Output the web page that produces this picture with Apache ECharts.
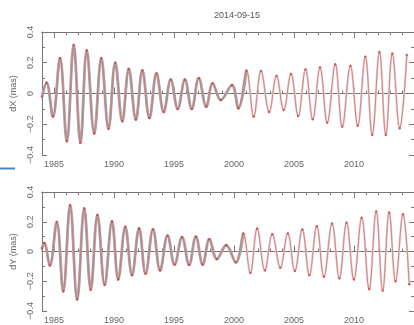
<!DOCTYPE html>
<html>
<head>
<meta charset="utf-8">
<script src="https://cdn.jsdelivr.net/npm/echarts@6/dist/echarts.min.js"></script>
<style>html,body{margin:0;padding:0;background:#fff}#c{width:414px;height:325px}</style>
</head>
<body>
<div id="c"></div>
<script>
// Title / labels
const titleText = '2014-09-15';
const xTickLabels = [1985, 1990, 1995, 2000, 2005, 2010];

// dX (mas): extrema
const yearsX = [1984.0, 1984.38, 1984.91, 1985.5, 1986.07, 1986.64, 1987.2, 1987.73, 1988.35, 1988.94,
  1989.54, 1990.1, 1990.69, 1991.23, 1991.82, 1992.36, 1992.95, 1993.54, 1994.14, 1994.73,
  1995.31, 1995.91, 1996.48, 1997.06, 1997.69, 1998.22, 1998.9, 1999.83, 2000.37, 2001.04,
  2001.64, 2002.25, 2002.93, 2003.54, 2004.14, 2004.75, 2005.35, 2005.96, 2006.56, 2007.17,
  2007.77, 2008.44, 2009.02, 2009.7, 2010.31, 2010.94, 2011.52, 2012.12, 2012.65, 2013.19,
  2013.81, 2014.4];
const dX = [-0.02, 0.07, -0.15, 0.23, -0.31, 0.315, -0.32, 0.28, -0.26, 0.23,
  -0.23, 0.20, -0.18, 0.16, -0.17, 0.15, -0.16, 0.13, -0.12, 0.09,
  -0.10, 0.09, -0.10, 0.10, -0.086, 0.066, -0.042, 0.055, -0.096, 0.15,
  -0.15, 0.146, -0.12, 0.114, -0.107, 0.127, -0.146, 0.157, -0.168, 0.17,
  -0.19, 0.19, -0.216, 0.18, -0.21, 0.24, -0.27, 0.27, -0.27, 0.26,
  -0.226, 0.25];

// dY (mas)
const yearsY = [1984.0, 1984.19, 1984.65, 1985.23, 1985.77, 1986.34, 1986.93, 1987.52, 1988.06, 1988.62,
  1989.22, 1989.83, 1990.35, 1990.94, 1991.5, 1992.09, 1992.63, 1993.25, 1993.84, 1994.46,
  1995.05, 1995.67, 1996.26, 1996.82, 1997.39, 1997.95, 1998.57, 1999.35, 2000.15, 2000.77,
  2001.36, 2001.93, 2002.57, 2003.19, 2003.86, 2004.48, 2005.07, 2005.69, 2006.28, 2006.9,
  2007.49, 2008.17, 2008.78, 2009.38, 2009.99, 2010.64, 2011.26, 2011.85, 2012.39, 2012.93,
  2013.46, 2014.08, 2014.6];
const dY = [0.02, 0.057, -0.094, 0.198, -0.268, 0.311, -0.322, 0.289, -0.257, 0.246,
  -0.224, 0.203, -0.188, 0.166, -0.159, 0.155, -0.149, 0.149, -0.127, 0.107,
  -0.088, 0.096, -0.09, 0.10, -0.088, 0.083, -0.051, 0.042, -0.073, 0.122,
  -0.144, 0.155, -0.127, 0.116, -0.109, 0.122, -0.131, 0.149, -0.159, 0.17,
  -0.17, 0.188, -0.181, 0.194, -0.188, 0.227, -0.253, 0.27, -0.263, 0.263,
  -0.2, 0.25, -0.22];

const zip = (a, b) => a.map((v, i) => [v, b[i]]);
const splitYear = 2001.1;

const FONT = 'Liberation Sans';
const AX = '#777';
const LBL = '#666';
const grids = [
  {left: 42, top: 32, width: 384.4, height: 123},
  {left: 42, top: 192, width: 384.4, height: 123}
];

function xAxes(gi) {
  const common = {type: 'value', gridIndex: gi, min: 1984, max: 2015, splitLine: {show: false},
    axisLine: {show: true, lineStyle: {color: AX, width: 1}}};
  return [
    Object.assign({}, common, {position: 'bottom', interval: 1,
      axisTick: {show: true, inside: true, length: 3, lineStyle: {color: AX}},
      axisLabel: {show: false}}),
    Object.assign({}, common, {position: 'bottom', interval: 1,
      axisTick: {show: true, inside: true, length: 6, customValues: xTickLabels, lineStyle: {color: AX}},
      axisLabel: {show: true, customValues: xTickLabels, color: LBL, fontSize: 9, fontFamily: FONT, margin: 5,
        formatter: v => String(v)}}),
    Object.assign({}, common, {position: 'top', interval: 1,
      axisTick: {show: true, inside: true, length: 3, lineStyle: {color: AX}},
      axisLabel: {show: false}}),
    Object.assign({}, common, {position: 'top', interval: 1,
      axisTick: {show: true, inside: true, length: 6, customValues: xTickLabels, lineStyle: {color: AX}},
      axisLabel: {show: false}})
  ];
}
function yAxes(gi, name) {
  const common = {type: 'value', gridIndex: gi, min: -0.4, max: 0.4, interval: 0.2, splitLine: {show: false},
    axisLine: {show: true, lineStyle: {color: AX, width: 1}},
    axisTick: {show: true, inside: true, length: 5, lineStyle: {color: AX}},
    minorTick: {show: true, splitNumber: 2, length: 3, lineStyle: {color: AX}}};
  return [
    Object.assign({}, common, {position: 'left', name: name, nameLocation: 'middle', nameGap: 21,
      nameTextStyle: {color: LBL, fontSize: 9, fontFamily: FONT},
      axisLabel: {show: true, rotate: 90, color: LBL, fontSize: 9, fontFamily: FONT, margin: 7,
        formatter: v => (Math.abs(v) < 1e-9 ? '0' : String(Math.round(v * 10) / 10).replace('-', '\u2212'))}}),
    Object.assign({}, common, {position: 'right', axisLabel: {show: false}})
  ];
}

const xa = xAxes(0).concat(xAxes(1));
const ya = yAxes(0, 'dX (mas)').concat(yAxes(1, 'dY (mas)'));

function panelSeries(gi, xs, ys) {
  const xi = gi * 4, yi = gi * 2;
  const all = zip(xs, ys);
  const earlyPts = all.filter(p => p[0] <= splitYear);
  const base = {type: 'line', xAxisIndex: xi, yAxisIndex: yi, smooth: 0.38,
    silent: true, animation: false, clip: true, showSymbol: false};
  return [
    // light band over the whole span
    Object.assign({}, base, {data: all, lineStyle: {color: '#e0d4d4', width: 2.2}, z: 1}),
    // wider, darker band in the early years
    Object.assign({}, base, {data: earlyPts, lineStyle: {color: '#a4a4a4', width: 2.8}, z: 2}),
    // red model curve
    Object.assign({}, base, {data: all, lineStyle: {color: '#d77777', width: 0.9}, z: 3}),
    // red dots at the extrema
    {type: 'scatter', xAxisIndex: xi, yAxisIndex: yi, silent: true, animation: false,
      data: all, symbolSize: 2.4, itemStyle: {color: '#d63a3a'}, z: 4}
  ];
}

const chart = echarts.init(document.getElementById('c'), null, {renderer: 'canvas'});
chart.setOption({
  animation: false,
  backgroundColor: '#fff',
  title: {text: titleText, left: 232, top: 6, textAlign: 'center',
    textStyle: {color: '#555', fontSize: 9, fontWeight: 'normal', fontFamily: FONT}},
  grid: grids,
  xAxis: xa,
  yAxis: ya,
  series: panelSeries(0, yearsX, dX).concat(panelSeries(1, yearsY, dY)),
  graphic: [{type: 'line', shape: {x1: 0, y1: 168.5, x2: 15, y2: 168.5},
    style: {stroke: '#4a86c0', lineWidth: 2}}]
});
</script>
</body>
</html>
